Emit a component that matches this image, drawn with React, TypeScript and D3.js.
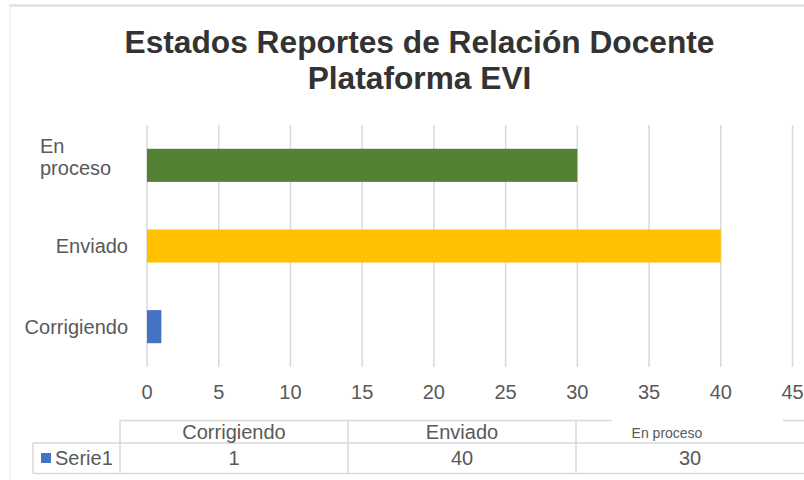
import React from "react";
import * as d3 from "d3";

const titleLines = ["Estados Reportes de Relación Docente", "Plataforma EVI"];
const categories = ["Corrigiendo", "Enviado", "En proceso"];
const values = [1, 40, 30];
const barColors = ["#4472C4", "#FFC000", "#548235"];
const xTicks = [0, 5, 10, 15, 20, 25, 30, 35, 40, 45];
const seriesName = "Serie1";

const W = 804;
const H = 480;
const FONT = "'Liberation Sans', Arial, Helvetica, sans-serif";

export default function App() {
  const x = d3.scaleLinear().domain([0, 45]).range([147, 792.5]);
  const yOrder = [...categories].reverse();
  const y = d3
    .scaleBand<string>()
    .domain(yOrder)
    .range([125, 367])
    .paddingInner(0.59)
    .paddingOuter(0.295);

  const colX = d3.scaleBand<string>().domain(categories).range([120, 804]);
  const gridColor = "#d9d9d9";

  return (
    <svg
      width={W}
      height={H}
      viewBox={`0 0 ${W} ${H}`}
      style={{ position: "absolute", left: 0, top: 0, background: "#fff" }}
      fontFamily={FONT}
    >
      <rect x={0} y={0} width={W} height={H} fill="#fff" />
      {/* outer frame */}
      <line x1={9} x2={W} y1={5.5} y2={5.5} stroke="#e2e2e2" strokeWidth={2.5} />
      <line x1={10} x2={10} y1={5} y2={H} stroke="#ececec" strokeWidth={1} />

      {/* title */}
      {titleLines.map((t, i) => (
        <text
          key={t}
          x={419.5}
          y={53 + i * 36}
          textAnchor="middle"
          fontSize={31.7}
          fontWeight="bold"
          fill="#333333"
        >
          {t}
        </text>
      ))}

      {/* gridlines */}
      {xTicks.map((t) => (
        <line
          key={t}
          x1={x(t)}
          x2={x(t)}
          y1={125}
          y2={367}
          stroke={gridColor}
          strokeWidth={1.5}
        />
      ))}

      {/* bars */}
      {categories.map((c, i) => (
        <rect
          key={c}
          x={x(0)}
          y={y(c)}
          width={x(values[i]) - x(0)}
          height={y.bandwidth()}
          fill={barColors[i]}
        />
      ))}

      {/* x tick labels */}
      {xTicks.map((t) => (
        <text
          key={t}
          x={x(t)}
          y={399}
          textAnchor="middle"
          fontSize={20}
          fill="#595959"
        >
          {t}
        </text>
      ))}

      {/* y category labels */}
      {categories.map((c) => {
        const cy = (y(c) as number) + y.bandwidth() / 2;
        const parts = c === "En proceso" ? ["En", "proceso"] : [c];
        if (parts.length > 1) {
          return (
            <text key={c} fontSize={20} fill="#595959">
              {parts.map((p, k) => (
                <tspan key={p} x={40} y={cy - 12 + k * 22}>
                  {p}
                </tspan>
              ))}
            </text>
          );
        }
        return (
          <text
            key={c}
            x={128}
            y={cy + 7}
            textAnchor="end"
            fontSize={20}
            fill="#595959"
          >
            {c}
          </text>
        );
      })}

      {/* data table */}
      <g stroke={gridColor} strokeWidth={1.5}>
        <line x1={120} x2={W} y1={420.5} y2={420.5} />
        <line x1={33} x2={W} y1={443} y2={443} />
        <line x1={33} x2={W} y1={473.5} y2={473.5} />
        <line x1={33} x2={33} y1={443} y2={473.5} />
        {categories.map((c) => (
          <line
            key={c}
            x1={colX(c)}
            x2={colX(c)}
            y1={420.5}
            y2={473.5}
          />
        ))}
      </g>
      {/* overlay box for the shifted header label */}
      <rect x={612} y={416} width={171} height={25} fill="#fff" />

      {categories.map((c, i) => {
        const cx = (colX(c) as number) + colX.bandwidth() / 2;
        const small = c === "En proceso";
        return (
          <g key={c}>
            <text
              x={small ? cx - 23 : cx}
              y={small ? 438 : 439}
              textAnchor="middle"
              fontSize={small ? 14 : 20}
              fill="#595959"
            >
              {c}
            </text>
            <text
              x={cx}
              y={465}
              textAnchor="middle"
              fontSize={20}
              fill="#595959"
            >
              {values[i]}
            </text>
          </g>
        );
      })}

      {/* legend key */}
      <rect x={41} y={453} width={10} height={10} fill={barColors[0]} />
      <text x={55} y={465} fontSize={20} fill="#595959">
        {seriesName}
      </text>
    </svg>
  );
}
